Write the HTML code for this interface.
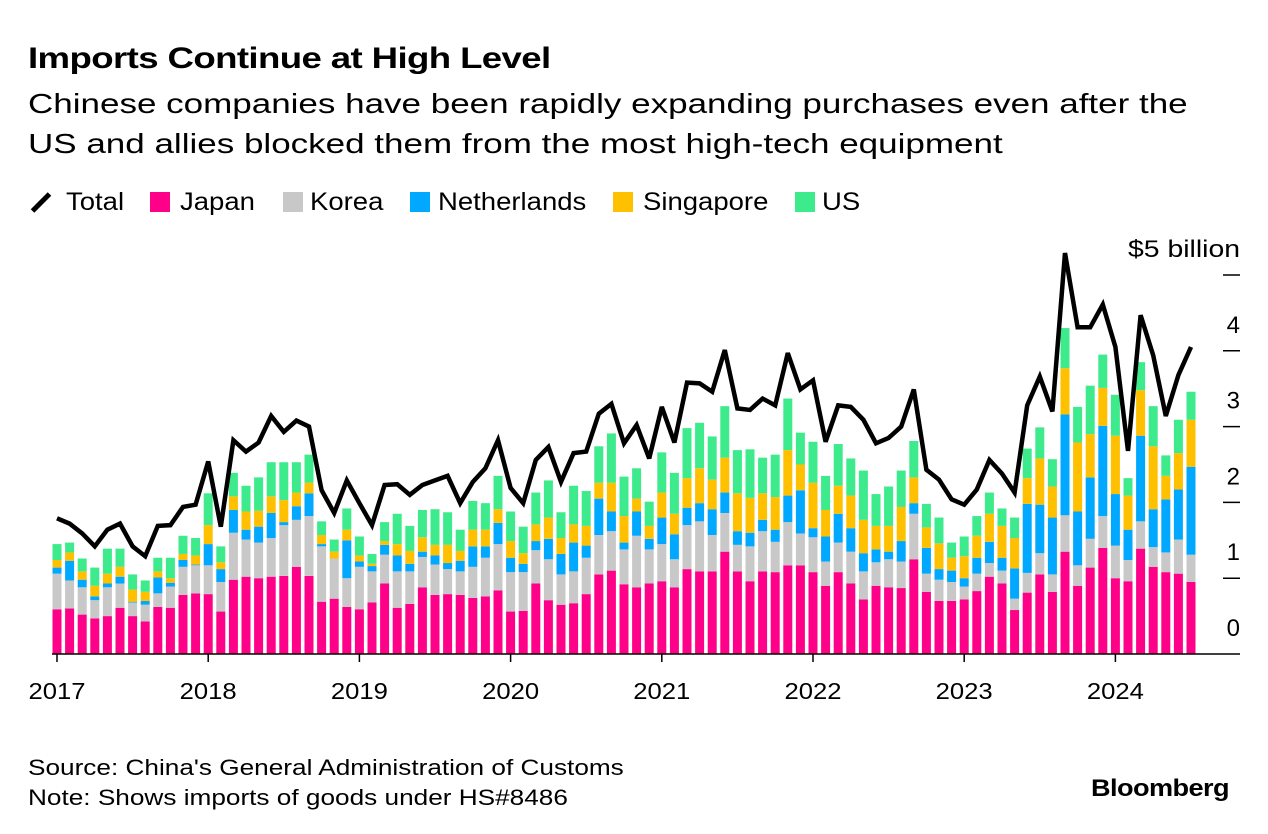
<!DOCTYPE html>
<html><head><meta charset="utf-8">
<style>
body{margin:0;background:#fff;width:1268px;height:834px;overflow:hidden;font-family:"Liberation Sans",Arial,sans-serif;color:#000}
#wrap{position:relative;width:1268px;height:834px}
.t{position:absolute;white-space:nowrap;transform-origin:0 0}
.sq{position:absolute;width:20px;height:20px;top:192px}
.lt{position:absolute;top:186px;font-size:25px;line-height:32px;white-space:nowrap;transform-origin:0 0;transform:scaleX(1.1)}
</style></head><body>
<div id="wrap">
<div class="t" style="left:28px;top:42px;font-size:30px;font-weight:bold;letter-spacing:-0.5px;transform:scaleX(1.22)">Imports Continue at High Level</div>
<div class="t" style="left:28px;top:84px;font-size:28px;line-height:40px;transform:scaleX(1.25)">Chinese companies have been rapidly expanding purchases even after the<br>US and allies blocked them from the most high-tech equipment</div>
<div>
<span><span style="position:absolute;left:29px;top:200px;width:24px;height:5px;background:#000;transform:rotate(-45deg)"></span><span class="lt" style="left:66px">Total</span></span>
<span><span class="sq" style="left:150px;background:#ff0088"></span><span class="lt" style="left:180px">Japan</span></span>
<span><span class="sq" style="left:283px;background:#c8c8c8"></span><span class="lt" style="left:310px">Korea</span></span>
<span><span class="sq" style="left:410px;background:#00a8ff"></span><span class="lt" style="left:438px">Netherlands</span></span>
<span><span class="sq" style="left:613px;background:#ffc000"></span><span class="lt" style="left:643px">Singapore</span></span>
<span><span class="sq" style="left:795px;background:#3eeb8c"></span><span class="lt" style="left:822px">US</span></span>
</div>
<svg id="chart" width="1268" height="834" style="position:absolute;left:0;top:0"></svg>
<div class="t" style="left:28px;top:753px;font-size:22px;line-height:30px;transform:scaleX(1.19)">Source: China's General Administration of Customs<br>Note: Shows imports of goods under HS#8486</div>
<div class="t" style="left:1091px;top:775px;font-size:24px;font-weight:bold;letter-spacing:-0.5px;transform:scaleX(1.13)">Bloomberg</div>
</div>
<script>
const japan=[.59,.60,.52,.47,.50,.61,.50,.43,.62,.61,.78,.80,.79,.56,.98,1.02,1.0,1.02,1.03,1.15,1.03,.69,.73,.62,.59,.68,.93,.61,.66,.88,.78,.79,.78,.74,.76,.84,.56,.57,.93,.71,.65,.67,.79,1.05,1.10,.92,.88,.93,.96,.88,1.12,1.09,1.09,1.35,1.09,.96,1.09,1.08,1.17,1.17,1.08,.90,1.08,.93,.72,.90,.88,.87,1.25,.82,.70,.70,.72,.83,1.02,.93,.58,.81,1.05,.82,1.35,.90,1.14,1.40,1.0,.96,1.39,1.15,1.08,1.06,.95];
const korea=[.47,.37,.36,.24,.38,.32,.18,.22,.18,.28,.37,.37,.38,.39,.62,.49,.47,.51,.67,.62,.79,.73,.53,.38,.56,.41,.38,.48,.43,.40,.40,.33,.31,.41,.51,.61,.52,.51,.44,.54,.40,.42,.48,.52,.52,.46,.68,.45,.49,.37,.58,.66,.48,.51,.35,.46,.53,.40,.57,.42,.46,.32,.39,.42,.37,.31,.37,.35,.60,.24,.28,.25,.17,.23,.18,.17,.15,.26,.28,.23,.48,.27,.38,.42,.43,.28,.36,.26,.26,.45,.36];
const netherlands=[.08,.26,.10,.05,.05,.09,.01,.05,.21,.05,.09,.01,.28,.17,.30,.13,.21,.33,.04,.18,.30,.03,0,.50,.07,.07,.13,.21,.10,.07,.12,.08,.14,.27,.15,.28,.19,.11,.12,.27,.27,.38,.16,.48,.26,.09,.32,.14,.35,.33,.23,.24,.34,.27,.18,.18,.15,.16,.35,.57,.12,.33,.38,.31,.24,.17,.10,.27,.14,.34,.14,.15,.11,.21,.28,.17,.40,.91,.64,.75,1.33,.71,.81,1.19,.68,.40,1.13,.50,.70,.66,1.16];
const singapore=[.10,.11,.11,.14,.13,.13,.16,.12,.08,.06,.08,.12,.25,.09,.18,.24,.21,.22,.29,.18,.14,.12,.09,.14,.08,.03,.05,.15,.17,.19,.14,.24,.13,.22,.22,.18,.22,.14,.22,.28,.21,.24,.26,.21,.38,.35,.17,.17,.33,.27,.39,.46,.39,.46,.50,.46,.35,.43,.60,.34,.60,.35,.37,.43,.44,.31,.34,.45,.34,.27,.34,.17,.29,.29,.37,.42,.40,.34,.61,.41,.61,.91,.57,.50,.77,.45,.60,.83,.31,.48,.62];
const us=[.21,.13,.17,.24,.33,.24,.20,.15,.18,.27,.24,.23,.42,.21,.31,.34,.44,.45,.50,.40,.37,.18,.16,.28,.25,.13,.25,.40,.33,.36,.47,.43,.28,.38,.35,.44,.39,.35,.42,.49,.34,.51,.46,.48,.65,.52,.40,.32,.53,.54,.66,.60,.57,.68,.57,.64,.47,.56,.68,.42,.54,.45,.55,.49,.65,.42,.52,.48,.48,.31,.34,.20,.26,.26,.28,.23,.27,.39,.41,.36,.53,.47,.64,.44,.54,.23,.37,.53,.27,.44,.37];
const total=[1.79,1.72,1.59,1.42,1.64,1.72,1.42,1.29,1.69,1.70,1.94,1.97,2.54,1.68,2.82,2.67,2.79,3.14,2.93,3.08,3.0,2.16,1.86,2.29,1.99,1.70,2.23,2.24,2.10,2.23,2.29,2.35,1.99,2.27,2.45,2.82,2.19,1.99,2.56,2.73,2.27,2.65,2.67,3.17,3.30,2.78,3.02,2.58,3.26,2.79,3.58,3.57,3.46,4.01,3.24,3.22,3.37,3.28,3.97,3.49,3.61,2.80,3.28,3.26,3.09,2.78,2.85,3.0,3.49,2.43,2.30,2.04,1.97,2.17,2.56,2.38,2.13,3.28,3.66,3.20,5.29,4.31,4.31,4.61,4.05,2.68,4.47,3.94,3.14,3.68,4.05];
const yTicks=[0,1,2,3,4,5];
const yLabels=["0","1","2","3","4","$5 billion"];
const years=["2017","2018","2019","2020","2021","2022","2023","2024"];

const NS="http://www.w3.org/2000/svg";
const svg=document.getElementById('chart');
const x0=57, step=12.6, y0=654, ppu=75.8;
const X=i=>x0+i*step;
const Y=v=>y0-v*ppu;
function mk(tag,attrs){const e=document.createElementNS(NS,tag);for(const k in attrs)e.setAttribute(k,attrs[k]);svg.appendChild(e);return e;}

yTicks.forEach((v,i)=>{
  if(v>0){const t=mk('line',{x1:1223,x2:1240,y1:Y(v),y2:Y(v),stroke:'#000','stroke-width':1.5});
  
  }
  const attrs={x:1240,y:Y(v)-18,'text-anchor':'end','font-size':24,'font-family':'Liberation Sans, sans-serif'};
  if(v===5){attrs.textLength=112;attrs.lengthAdjust='spacingAndGlyphs';}
  const l=mk('text',attrs);
  l.textContent=yLabels[i];
  
  
});

const series=[[japan,'#ff0088','japan'],[korea,'#c8c8c8','korea'],[netherlands,'#00a8ff','netherlands'],[singapore,'#ffc000','singapore'],[us,'#3eeb8c','us']];
for(let i=0;i<japan.length;i++){
  let c=0;
  series.forEach(s=>{
    const v=s[0][i];
    const r=mk('rect',{x:X(i)-4.5,y:Y(c+v),width:9,height:Math.max(0,v*ppu),fill:s[1]});
    
    
    c+=v;
  });
}

const bl=mk('line',{x1:52,x2:1240,y1:y0,y2:y0,stroke:'#000','stroke-width':1.5});



years.forEach((yr,k)=>{
  const x=X(k*12);
  const t=mk('line',{x1:x,x2:x,y1:y0,y2:y0+8,stroke:'#000','stroke-width':1.5});
  
  
  const l=mk('text',{x:x,y:699,'text-anchor':'middle','font-size':23,'font-family':'Liberation Sans, sans-serif',textLength:57,lengthAdjust:'spacingAndGlyphs'});
  l.textContent=yr;
  
  
});

const pts=total.map((v,i)=>X(i)+','+Y(v)).join(' ');
const pl=mk('polyline',{points:pts,fill:'none',stroke:'#000','stroke-width':4.5,'stroke-linejoin':'miter','stroke-miterlimit':3});


</script>
</body></html>
